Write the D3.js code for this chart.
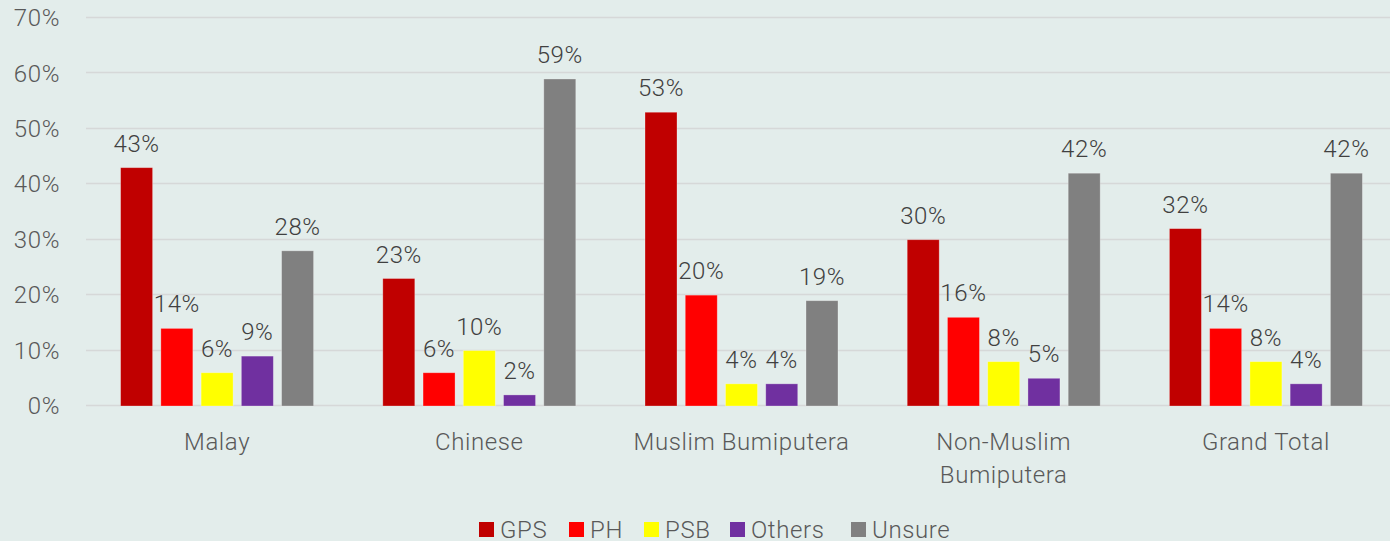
<!DOCTYPE html>
<html>
<head>
<meta charset="utf-8">
<script src="https://cdn.jsdelivr.net/npm/d3@7"></script>
<style>
  body { margin: 0; background: #E3EDEB; overflow: hidden; }
  text { font-family: Roboto, sans-serif; font-weight: 300; fill: #595959; letter-spacing: 0.6px; }
</style>
</head>
<body>
<div id="chart"></div>
<script>
// Data
const categories = ['Malay', 'Chinese', 'Muslim Bumiputera', 'Non-Muslim Bumiputera', 'Grand Total']
const categoryLines = [['Malay'], ['Chinese'], ['Muslim Bumiputera'], ['Non-Muslim', 'Bumiputera'], ['Grand Total']]
const seriesNames = ['GPS', 'PH', 'PSB', 'Others', 'Unsure']
const seriesColors = ['#C00000', '#FF0000', '#FFFF00', '#7030A0', '#808080']
const GPS = [43, 23, 53, 30, 32]
const PH = [14, 6, 20, 16, 14]
const PSB = [6, 10, 4, 8, 8]
const Others = [9, 2, 4, 5, 4]
const Unsure = [28, 59, 19, 42, 42]
const yTicks = [0, 10, 20, 30, 40, 50, 60, 70]

const seriesValues = [GPS, PH, PSB, Others, Unsure]

const WIDTH = 1390
const HEIGHT = 541
const MARGIN = { top: 18, left: 86 }
const innerW = 1311
const innerH = 388

const svg = d3.select('#chart')
    .append('svg')
    .attr('width', WIDTH)
    .attr('height', HEIGHT)
    .style('background', '#E3EDEB')

const g = svg.append('g')
    .attr('transform', `translate(${MARGIN.left}, ${MARGIN.top})`)

// Scales
const x0 = d3.scaleBand()
    .domain(categories)
    .range([0, innerW])
    .paddingInner(0.264)
    .paddingOuter(0.132)

const x1 = d3.scaleBand()
    .domain(seriesNames)
    .range([0, x0.bandwidth()])
    .paddingInner(0.205)

const y = d3.scaleLinear()
    .domain([0, 70])
    .range([innerH, 0])

// Gridlines
g.selectAll('.grid')
    .data(yTicks)
    .enter()
    .append('line')
    .attr('x1', 0)
    .attr('x2', WIDTH)
    .attr('y1', d => Math.round(y(d)) - 0.5)
    .attr('y2', d => Math.round(y(d)) - 0.5)
    .attr('stroke', '#D6D8D8')
    .attr('stroke-width', 1.5)

// Y axis
const yAxis = d3.axisLeft(y)
    .tickValues(yTicks)
    .tickFormat(d => d + '%')
    .tickSize(0)
    .tickPadding(26)

g.append('g')
    .call(yAxis)
    .call(s => s.select('.domain').remove())
    .selectAll('text')
    .style('font-size', '24px')
    .style('font-family', 'Roboto, sans-serif')
    .attr('fill', '#595959')

// Bars
const groups = g.selectAll('.cat')
    .data(categories)
    .enter()
    .append('g')
    .attr('transform', d => `translate(${x0(d)}, 0)`)

groups.each(function (cat, ci) {
    const grp = d3.select(this)
    seriesNames.forEach((s, si) => {
        const v = seriesValues[si][ci]
        grp.append('rect')
            .attr('x', x1(s))
            .attr('y', y(v))
            .attr('width', x1.bandwidth())
            .attr('height', y(0) - y(v))
            .attr('fill', seriesColors[si])
            .attr('stroke', 'rgba(255,255,255,0.35)')
            .attr('stroke-width', 0.8)
        grp.append('text')
            .attr('x', x1(s) + x1.bandwidth() / 2)
            .attr('y', y(v) - 16)
            .attr('text-anchor', 'middle')
            .style('font-size', '24px')
            .style('fill', '#404040')
            .text(v + '%')
    })
})

// Category labels
categoryLines.forEach((lines, ci) => {
    const cx = x0(categories[ci]) + x0.bandwidth() / 2
    const t = g.append('text')
        .attr('x', cx)
        .attr('y', innerH + 44)
        .attr('text-anchor', 'middle')
        .style('font-size', '24px')
    lines.forEach((l, li) => {
        t.append('tspan')
            .attr('x', cx)
            .attr('dy', li === 0 ? 0 : 33)
            .text(l)
    })
})

// Legend
const legend = svg.append('g')
    .attr('transform', 'translate(479, 522)')
const legendX = [0, 90, 165, 251, 372]
seriesNames.forEach((s, i) => {
    legend.append('rect')
        .attr('x', legendX[i])
        .attr('y', 0)
        .attr('width', 15)
        .attr('height', 15)
        .attr('fill', seriesColors[i])
    legend.append('text')
        .attr('x', legendX[i] + 21)
        .attr('y', 16)
        .style('font-size', '24px')
        .text(s)
})
</script>
</body>
</html>
